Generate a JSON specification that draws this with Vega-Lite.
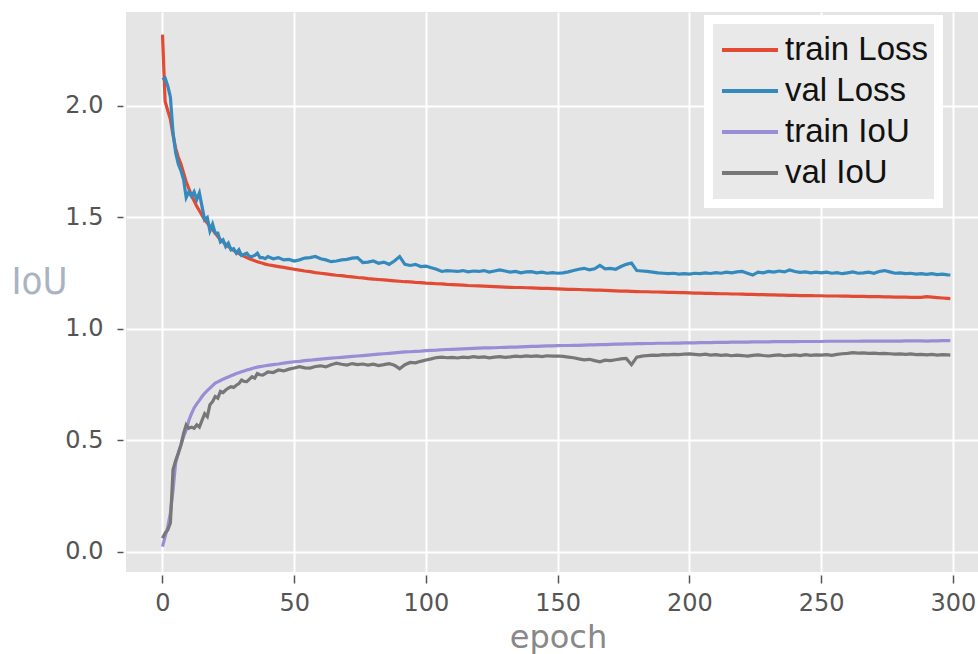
{
  "$schema": "https://vega.github.io/schema/vega-lite/v6.json",
  "width": 852,
  "height": 560,
  "autosize": {"type": "none"},
  "padding": {"left": 126, "top": 12, "right": 0, "bottom": 82},
  "background": "white",
  "config": {
    "view": {"fill": "#e5e5e5", "stroke": null},
    "axis": {
      "domain": false,
      "gridColor": "white",
      "gridWidth": 2,
      "gridOpacity": 1,
      "tickColor": "#555555",
      "tickWidth": 1.5,
      "labelColor": "#555555",
      "labelFont": "DejaVu Sans",
      "labelFontSize": 24,
      "titleFontWeight": "normal"
    },
    "legend": {
      "fillColor": "#e9e9e9",
      "strokeColor": "white",
      "strokeWidth": 9,
      "padding": 10,
      "symbolOffset": 1.5,
      "clipHeight": 41,
      "labelFont": "Liberation Sans",
      "labelFontSize": 33,
      "labelColor": "#111111",
      "symbolType": "stroke",
      "symbolStrokeWidth": 4,
      "symbolSize": 3136,
      "labelOffset": 5,
      "rowPadding": 0
    }
  },
  "data": {
    "values": [
      {"e":0,"train Loss":2.32,"val Loss":2.117,"train IoU":0.024,"val IoU":0.062},
      {"e":1,"train Loss":2.02,"val Loss":2.125,"train IoU":0.069,"val IoU":0.085},
      {"e":2,"train Loss":1.98,"val Loss":2.09,"train IoU":0.113,"val IoU":0.099},
      {"e":3,"train Loss":1.94,"val Loss":2.04,"train IoU":0.175,"val IoU":0.13},
      {"e":4,"train Loss":1.87,"val Loss":1.88,"train IoU":0.278,"val IoU":0.37},
      {"e":5,"train Loss":1.81,"val Loss":1.79,"train IoU":0.40,"val IoU":0.41},
      {"e":6,"train Loss":1.77,"val Loss":1.74,"train IoU":0.444,"val IoU":0.443},
      {"e":7,"train Loss":1.74,"val Loss":1.71,"train IoU":0.48,"val IoU":0.48},
      {"e":8,"train Loss":1.70,"val Loss":1.67,"train IoU":0.517,"val IoU":0.532},
      {"e":9,"train Loss":1.66,"val Loss":1.59,"train IoU":0.547,"val IoU":0.57},
      {"e":10,"train Loss":1.63,"val Loss":1.615,"train IoU":0.59,"val IoU":0.555},
      {"e":11,"train Loss":1.60,"val Loss":1.595,"train IoU":0.62,"val IoU":0.56},
      {"e":12,"train Loss":1.575,"val Loss":1.615,"train IoU":0.646,"val IoU":0.555},
      {"e":13,"train Loss":1.55,"val Loss":1.58,"train IoU":0.664,"val IoU":0.57},
      {"e":14,"train Loss":1.53,"val Loss":1.61,"train IoU":0.68,"val IoU":0.56},
      {"e":15,"train Loss":1.51,"val Loss":1.55,"train IoU":0.697,"val IoU":0.59},
      {"e":16,"train Loss":1.49,"val Loss":1.49,"train IoU":0.712,"val IoU":0.62},
      {"e":17,"train Loss":1.475,"val Loss":1.50,"train IoU":0.724,"val IoU":0.607},
      {"e":18,"train Loss":1.46,"val Loss":1.44,"train IoU":0.735,"val IoU":0.66},
      {"e":19,"train Loss":1.445,"val Loss":1.47,"train IoU":0.746,"val IoU":0.674},
      {"e":20,"train Loss":1.43,"val Loss":1.43,"train IoU":0.757,"val IoU":0.697},
      {"e":21,"train Loss":1.415,"val Loss":1.43,"train IoU":0.763,"val IoU":0.69},
      {"e":22,"train Loss":1.40,"val Loss":1.39,"train IoU":0.769,"val IoU":0.72},
      {"e":23,"train Loss":1.39,"val Loss":1.40,"train IoU":0.775,"val IoU":0.715},
      {"e":24,"train Loss":1.38,"val Loss":1.37,"train IoU":0.78,"val IoU":0.726},
      {"e":25,"train Loss":1.37,"val Loss":1.385,"train IoU":0.785,"val IoU":0.735},
      {"e":26,"train Loss":1.36,"val Loss":1.355,"train IoU":0.79,"val IoU":0.741},
      {"e":27,"train Loss":1.352,"val Loss":1.36,"train IoU":0.795,"val IoU":0.738},
      {"e":28,"train Loss":1.345,"val Loss":1.34,"train IoU":0.80,"val IoU":0.748},
      {"e":29,"train Loss":1.338,"val Loss":1.355,"train IoU":0.804,"val IoU":0.755},
      {"e":30,"train Loss":1.332,"val Loss":1.33,"train IoU":0.808,"val IoU":0.771},
      {"e":31,"train Loss":1.326,"val Loss":1.335,"train IoU":0.812,"val IoU":0.765},
      {"e":32,"train Loss":1.32,"val Loss":1.34,"train IoU":0.816,"val IoU":0.764},
      {"e":33,"train Loss":1.315,"val Loss":1.325,"train IoU":0.819,"val IoU":0.775},
      {"e":34,"train Loss":1.31,"val Loss":1.325,"train IoU":0.823,"val IoU":0.786},
      {"e":35,"train Loss":1.306,"val Loss":1.33,"train IoU":0.826,"val IoU":0.78},
      {"e":36,"train Loss":1.302,"val Loss":1.34,"train IoU":0.829,"val IoU":0.80},
      {"e":37,"train Loss":1.298,"val Loss":1.32,"train IoU":0.831,"val IoU":0.795},
      {"e":38,"train Loss":1.295,"val Loss":1.32,"train IoU":0.833,"val IoU":0.793},
      {"e":39,"train Loss":1.291,"val Loss":1.315,"train IoU":0.835,"val IoU":0.80},
      {"e":40,"train Loss":1.288,"val Loss":1.325,"train IoU":0.837,"val IoU":0.808},
      {"e":42,"train Loss":1.284,"val Loss":1.315,"train IoU":0.840,"val IoU":0.805},
      {"e":44,"train Loss":1.280,"val Loss":1.320,"train IoU":0.843,"val IoU":0.816},
      {"e":46,"train Loss":1.276,"val Loss":1.310,"train IoU":0.847,"val IoU":0.812},
      {"e":48,"train Loss":1.272,"val Loss":1.312,"train IoU":0.850,"val IoU":0.820},
      {"e":50,"train Loss":1.268,"val Loss":1.305,"train IoU":0.853,"val IoU":0.825},
      {"e":52,"train Loss":1.264,"val Loss":1.310,"train IoU":0.855,"val IoU":0.831},
      {"e":54,"train Loss":1.260,"val Loss":1.318,"train IoU":0.858,"val IoU":0.826},
      {"e":56,"train Loss":1.257,"val Loss":1.320,"train IoU":0.860,"val IoU":0.825},
      {"e":58,"train Loss":1.253,"val Loss":1.325,"train IoU":0.863,"val IoU":0.832},
      {"e":60,"train Loss":1.250,"val Loss":1.315,"train IoU":0.865,"val IoU":0.835},
      {"e":62,"train Loss":1.247,"val Loss":1.310,"train IoU":0.867,"val IoU":0.830},
      {"e":64,"train Loss":1.244,"val Loss":1.302,"train IoU":0.869,"val IoU":0.840},
      {"e":66,"train Loss":1.241,"val Loss":1.305,"train IoU":0.871,"val IoU":0.847},
      {"e":68,"train Loss":1.239,"val Loss":1.310,"train IoU":0.873,"val IoU":0.842},
      {"e":70,"train Loss":1.236,"val Loss":1.312,"train IoU":0.875,"val IoU":0.838},
      {"e":72,"train Loss":1.234,"val Loss":1.318,"train IoU":0.877,"val IoU":0.845},
      {"e":74,"train Loss":1.231,"val Loss":1.320,"train IoU":0.879,"val IoU":0.840},
      {"e":76,"train Loss":1.229,"val Loss":1.298,"train IoU":0.881,"val IoU":0.843},
      {"e":78,"train Loss":1.226,"val Loss":1.300,"train IoU":0.883,"val IoU":0.838},
      {"e":80,"train Loss":1.224,"val Loss":1.305,"train IoU":0.885,"val IoU":0.842},
      {"e":82,"train Loss":1.222,"val Loss":1.295,"train IoU":0.887,"val IoU":0.836},
      {"e":84,"train Loss":1.220,"val Loss":1.300,"train IoU":0.889,"val IoU":0.840},
      {"e":86,"train Loss":1.218,"val Loss":1.290,"train IoU":0.891,"val IoU":0.845},
      {"e":88,"train Loss":1.216,"val Loss":1.305,"train IoU":0.893,"val IoU":0.838},
      {"e":90,"train Loss":1.214,"val Loss":1.325,"train IoU":0.895,"val IoU":0.822},
      {"e":92,"train Loss":1.212,"val Loss":1.290,"train IoU":0.897,"val IoU":0.840},
      {"e":94,"train Loss":1.211,"val Loss":1.285,"train IoU":0.898,"val IoU":0.850},
      {"e":96,"train Loss":1.209,"val Loss":1.290,"train IoU":0.900,"val IoU":0.848},
      {"e":98,"train Loss":1.208,"val Loss":1.280,"train IoU":0.901,"val IoU":0.855},
      {"e":100,"train Loss":1.206,"val Loss":1.282,"train IoU":0.903,"val IoU":0.861},
      {"e":102,"train Loss":1.205,"val Loss":1.275,"train IoU":0.904,"val IoU":0.866},
      {"e":104,"train Loss":1.203,"val Loss":1.268,"train IoU":0.905,"val IoU":0.872},
      {"e":106,"train Loss":1.202,"val Loss":1.258,"train IoU":0.907,"val IoU":0.874},
      {"e":108,"train Loss":1.200,"val Loss":1.262,"train IoU":0.908,"val IoU":0.871},
      {"e":110,"train Loss":1.199,"val Loss":1.260,"train IoU":0.909,"val IoU":0.873},
      {"e":112,"train Loss":1.198,"val Loss":1.258,"train IoU":0.910,"val IoU":0.870},
      {"e":114,"train Loss":1.197,"val Loss":1.262,"train IoU":0.911,"val IoU":0.874},
      {"e":116,"train Loss":1.195,"val Loss":1.256,"train IoU":0.912,"val IoU":0.872},
      {"e":118,"train Loss":1.194,"val Loss":1.260,"train IoU":0.913,"val IoU":0.876},
      {"e":120,"train Loss":1.193,"val Loss":1.258,"train IoU":0.914,"val IoU":0.873},
      {"e":122,"train Loss":1.192,"val Loss":1.262,"train IoU":0.915,"val IoU":0.875},
      {"e":124,"train Loss":1.191,"val Loss":1.255,"train IoU":0.915,"val IoU":0.871},
      {"e":126,"train Loss":1.190,"val Loss":1.260,"train IoU":0.916,"val IoU":0.874},
      {"e":128,"train Loss":1.189,"val Loss":1.265,"train IoU":0.917,"val IoU":0.876},
      {"e":130,"train Loss":1.188,"val Loss":1.260,"train IoU":0.918,"val IoU":0.873},
      {"e":132,"train Loss":1.187,"val Loss":1.255,"train IoU":0.919,"val IoU":0.875},
      {"e":134,"train Loss":1.186,"val Loss":1.258,"train IoU":0.919,"val IoU":0.878},
      {"e":136,"train Loss":1.186,"val Loss":1.252,"train IoU":0.920,"val IoU":0.876},
      {"e":138,"train Loss":1.185,"val Loss":1.256,"train IoU":0.921,"val IoU":0.879},
      {"e":140,"train Loss":1.184,"val Loss":1.257,"train IoU":0.922,"val IoU":0.877},
      {"e":142,"train Loss":1.183,"val Loss":1.252,"train IoU":0.922,"val IoU":0.879},
      {"e":144,"train Loss":1.182,"val Loss":1.255,"train IoU":0.923,"val IoU":0.876},
      {"e":146,"train Loss":1.182,"val Loss":1.250,"train IoU":0.924,"val IoU":0.880},
      {"e":148,"train Loss":1.181,"val Loss":1.253,"train IoU":0.924,"val IoU":0.878},
      {"e":150,"train Loss":1.180,"val Loss":1.250,"train IoU":0.925,"val IoU":0.879},
      {"e":152,"train Loss":1.179,"val Loss":1.252,"train IoU":0.926,"val IoU":0.877},
      {"e":154,"train Loss":1.178,"val Loss":1.256,"train IoU":0.926,"val IoU":0.874},
      {"e":156,"train Loss":1.178,"val Loss":1.262,"train IoU":0.927,"val IoU":0.871},
      {"e":158,"train Loss":1.177,"val Loss":1.268,"train IoU":0.927,"val IoU":0.866},
      {"e":160,"train Loss":1.176,"val Loss":1.272,"train IoU":0.928,"val IoU":0.862},
      {"e":162,"train Loss":1.175,"val Loss":1.265,"train IoU":0.929,"val IoU":0.864},
      {"e":164,"train Loss":1.174,"val Loss":1.270,"train IoU":0.929,"val IoU":0.858},
      {"e":166,"train Loss":1.174,"val Loss":1.285,"train IoU":0.930,"val IoU":0.853},
      {"e":168,"train Loss":1.173,"val Loss":1.270,"train IoU":0.930,"val IoU":0.860},
      {"e":170,"train Loss":1.172,"val Loss":1.272,"train IoU":0.931,"val IoU":0.858},
      {"e":172,"train Loss":1.171,"val Loss":1.268,"train IoU":0.932,"val IoU":0.862},
      {"e":174,"train Loss":1.170,"val Loss":1.280,"train IoU":0.932,"val IoU":0.866},
      {"e":176,"train Loss":1.170,"val Loss":1.290,"train IoU":0.933,"val IoU":0.868},
      {"e":178,"train Loss":1.169,"val Loss":1.296,"train IoU":0.933,"val IoU":0.840},
      {"e":180,"train Loss":1.168,"val Loss":1.262,"train IoU":0.934,"val IoU":0.874},
      {"e":182,"train Loss":1.167,"val Loss":1.260,"train IoU":0.934,"val IoU":0.878},
      {"e":184,"train Loss":1.167,"val Loss":1.258,"train IoU":0.935,"val IoU":0.881},
      {"e":186,"train Loss":1.166,"val Loss":1.255,"train IoU":0.935,"val IoU":0.883},
      {"e":188,"train Loss":1.166,"val Loss":1.252,"train IoU":0.936,"val IoU":0.882},
      {"e":190,"train Loss":1.165,"val Loss":1.250,"train IoU":0.936,"val IoU":0.885},
      {"e":192,"train Loss":1.164,"val Loss":1.248,"train IoU":0.936,"val IoU":0.884},
      {"e":194,"train Loss":1.164,"val Loss":1.250,"train IoU":0.937,"val IoU":0.886},
      {"e":196,"train Loss":1.163,"val Loss":1.246,"train IoU":0.937,"val IoU":0.885},
      {"e":198,"train Loss":1.163,"val Loss":1.248,"train IoU":0.938,"val IoU":0.887},
      {"e":200,"train Loss":1.162,"val Loss":1.246,"train IoU":0.938,"val IoU":0.888},
      {"e":202,"train Loss":1.161,"val Loss":1.250,"train IoU":0.938,"val IoU":0.886},
      {"e":204,"train Loss":1.161,"val Loss":1.248,"train IoU":0.939,"val IoU":0.884},
      {"e":206,"train Loss":1.160,"val Loss":1.252,"train IoU":0.939,"val IoU":0.887},
      {"e":208,"train Loss":1.160,"val Loss":1.249,"train IoU":0.939,"val IoU":0.883},
      {"e":210,"train Loss":1.159,"val Loss":1.253,"train IoU":0.940,"val IoU":0.885},
      {"e":212,"train Loss":1.158,"val Loss":1.250,"train IoU":0.940,"val IoU":0.882},
      {"e":214,"train Loss":1.158,"val Loss":1.255,"train IoU":0.940,"val IoU":0.884},
      {"e":216,"train Loss":1.157,"val Loss":1.252,"train IoU":0.941,"val IoU":0.880},
      {"e":218,"train Loss":1.157,"val Loss":1.256,"train IoU":0.941,"val IoU":0.883},
      {"e":220,"train Loss":1.156,"val Loss":1.258,"train IoU":0.941,"val IoU":0.881},
      {"e":222,"train Loss":1.155,"val Loss":1.250,"train IoU":0.941,"val IoU":0.878},
      {"e":224,"train Loss":1.155,"val Loss":1.242,"train IoU":0.942,"val IoU":0.882},
      {"e":226,"train Loss":1.154,"val Loss":1.255,"train IoU":0.942,"val IoU":0.884},
      {"e":228,"train Loss":1.154,"val Loss":1.252,"train IoU":0.942,"val IoU":0.881},
      {"e":230,"train Loss":1.153,"val Loss":1.258,"train IoU":0.942,"val IoU":0.879},
      {"e":232,"train Loss":1.153,"val Loss":1.255,"train IoU":0.943,"val IoU":0.882},
      {"e":234,"train Loss":1.152,"val Loss":1.260,"train IoU":0.943,"val IoU":0.884},
      {"e":236,"train Loss":1.152,"val Loss":1.256,"train IoU":0.943,"val IoU":0.880},
      {"e":238,"train Loss":1.151,"val Loss":1.265,"train IoU":0.943,"val IoU":0.882},
      {"e":240,"train Loss":1.151,"val Loss":1.258,"train IoU":0.943,"val IoU":0.884},
      {"e":242,"train Loss":1.150,"val Loss":1.254,"train IoU":0.944,"val IoU":0.881},
      {"e":244,"train Loss":1.150,"val Loss":1.256,"train IoU":0.944,"val IoU":0.885},
      {"e":246,"train Loss":1.150,"val Loss":1.252,"train IoU":0.944,"val IoU":0.882},
      {"e":248,"train Loss":1.149,"val Loss":1.255,"train IoU":0.944,"val IoU":0.884},
      {"e":250,"train Loss":1.149,"val Loss":1.252,"train IoU":0.944,"val IoU":0.883},
      {"e":252,"train Loss":1.148,"val Loss":1.255,"train IoU":0.945,"val IoU":0.885},
      {"e":254,"train Loss":1.148,"val Loss":1.250,"train IoU":0.945,"val IoU":0.882},
      {"e":256,"train Loss":1.148,"val Loss":1.253,"train IoU":0.945,"val IoU":0.886},
      {"e":258,"train Loss":1.147,"val Loss":1.248,"train IoU":0.945,"val IoU":0.889},
      {"e":260,"train Loss":1.147,"val Loss":1.252,"train IoU":0.945,"val IoU":0.891},
      {"e":262,"train Loss":1.146,"val Loss":1.256,"train IoU":0.945,"val IoU":0.894},
      {"e":264,"train Loss":1.146,"val Loss":1.250,"train IoU":0.945,"val IoU":0.892},
      {"e":266,"train Loss":1.146,"val Loss":1.252,"train IoU":0.946,"val IoU":0.893},
      {"e":268,"train Loss":1.145,"val Loss":1.255,"train IoU":0.946,"val IoU":0.891},
      {"e":270,"train Loss":1.145,"val Loss":1.250,"train IoU":0.946,"val IoU":0.892},
      {"e":272,"train Loss":1.145,"val Loss":1.258,"train IoU":0.946,"val IoU":0.890},
      {"e":274,"train Loss":1.144,"val Loss":1.262,"train IoU":0.946,"val IoU":0.891},
      {"e":276,"train Loss":1.144,"val Loss":1.256,"train IoU":0.946,"val IoU":0.889},
      {"e":278,"train Loss":1.143,"val Loss":1.250,"train IoU":0.946,"val IoU":0.887},
      {"e":280,"train Loss":1.143,"val Loss":1.252,"train IoU":0.946,"val IoU":0.888},
      {"e":282,"train Loss":1.143,"val Loss":1.248,"train IoU":0.947,"val IoU":0.886},
      {"e":284,"train Loss":1.142,"val Loss":1.250,"train IoU":0.947,"val IoU":0.888},
      {"e":286,"train Loss":1.142,"val Loss":1.246,"train IoU":0.947,"val IoU":0.885},
      {"e":288,"train Loss":1.142,"val Loss":1.248,"train IoU":0.947,"val IoU":0.886},
      {"e":290,"train Loss":1.145,"val Loss":1.245,"train IoU":0.946,"val IoU":0.884},
      {"e":292,"train Loss":1.143,"val Loss":1.248,"train IoU":0.947,"val IoU":0.886},
      {"e":294,"train Loss":1.141,"val Loss":1.244,"train IoU":0.947,"val IoU":0.883},
      {"e":296,"train Loss":1.139,"val Loss":1.246,"train IoU":0.948,"val IoU":0.885},
      {"e":298,"train Loss":1.137,"val Loss":1.243,"train IoU":0.948,"val IoU":0.884},
      {"e":299,"train Loss":1.136,"val Loss":1.242,"train IoU":0.948,"val IoU":0.883}
    ]
  },
  "transform": [
    {"fold": ["train Loss", "val Loss", "train IoU", "val IoU"], "as": ["series", "value"]}
  ],
  "mark": {"type": "line", "strokeWidth": 3.2, "interpolate": "linear"},
  "encoding": {
    "x": {
      "field": "e",
      "type": "quantitative",
      "scale": {"domain": [-13.85, 309.5], "nice": false, "zero": false},
      "axis": {
        "values": [0, 50, 100, 150, 200, 250, 300],
        "format": "d",
        "offset": 3,
        "tickSize": 8,
        "labelPadding": 8,
        "title": "epoch",
        "titleFont": "DejaVu Sans",
        "titleFontSize": 32,
        "titleColor": "#888888",
        "titleX": 432,
        "titleY": 72,
        "titleBaseline": "alphabetic",
        "titleAnchor": "middle",
        "titleAlign": "center"
      }
    },
    "y": {
      "field": "value",
      "type": "quantitative",
      "scale": {"domain": [-0.0897, 2.4215], "nice": false, "zero": false},
      "axis": {
        "values": [0, 0.5, 1, 1.5, 2],
        "format": ".1f",
        "offset": 3,
        "tickSize": 6,
        "labelPadding": 14,
        "title": "IoU",
        "titleFont": "DejaVu Sans Condensed",
        "titleFontSize": 38,
        "titleColor": "#a9b3c1",
        "titleAngle": 0,
        "titleAlign": "left",
        "titleBaseline": "alphabetic",
        "titleX": -112,
        "titleY": 281
      }
    },
    "color": {
      "field": "series",
      "type": "nominal",
      "scale": {
        "domain": ["train Loss", "val Loss", "train IoU", "val IoU"],
        "range": ["#E24A33", "#348ABD", "#988ED5", "#777777"]
      },
      "legend": {
        "title": null,
        "orient": "none",
        "legendX": 582.5,
        "legendY": 7.5
      }
    }
  }
}
